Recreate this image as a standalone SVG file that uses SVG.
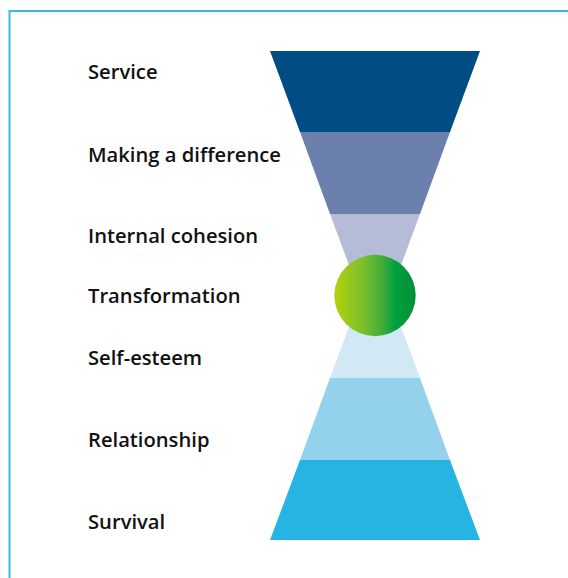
<svg xmlns="http://www.w3.org/2000/svg" width="568" height="578" viewBox="0 0 568 578">
  <defs>
    <linearGradient id="orb" x1="0" y1="0" x2="1" y2="0">
      <stop offset="0" stop-color="#b2d20e"/>
      <stop offset="0.35" stop-color="#7cbf2c"/>
      <stop offset="0.6" stop-color="#3fab3a"/>
      <stop offset="0.75" stop-color="#00a03e"/>
      <stop offset="1" stop-color="#008f36"/>
    </linearGradient>
    <style>
      .frame { stroke: #3fb8df; stroke-width: 2; fill: none; }
      .label { font-family: "Open Sans", "Noto Sans", "Liberation Sans", sans-serif; font-size: 20.2px; font-weight: 600; fill: #111; }
    </style>
  </defs>

  <rect width="568" height="578" fill="#fff"/>

  <!-- frame -->
  <polyline class="frame" points="9.5,578 9.5,11 568,11"/>

  <!-- hourglass bands, top to bottom -->
  <g id="service"><polygon points="270,51 480,51 450,132 300,132" fill="#004c84"/><text class="label" x="88" y="79">Service</text></g>
  <g id="making-a-difference"><polygon points="300,132 450,132 420,214 330,214" fill="#6b80ad"/><text class="label" x="88" y="162">Making a difference</text></g>
  <g id="internal-cohesion"><polygon points="330,214 420,214 389.5,296 360.5,296" fill="#b5bcd8"/><text class="label" x="88" y="243">Internal cohesion</text></g>
  <g id="self-esteem"><polygon points="360.5,296 389.5,296 420,378 330,378" fill="#d1e8f5"/><text class="label" x="88" y="365">Self-esteem</text></g>
  <g id="relationship"><polygon points="330,378 420,378 450,460 300,460" fill="#94d1ec"/><text class="label" x="88" y="447">Relationship</text></g>
  <g id="survival"><polygon points="300,460 450,460 480,540 270,540" fill="#26b5e2"/><text class="label" x="88" y="529">Survival</text></g>
  <g id="transformation"><circle cx="375" cy="295.5" r="40.7" fill="url(#orb)"/><text class="label" x="88" y="303">Transformation</text></g>
</svg>
